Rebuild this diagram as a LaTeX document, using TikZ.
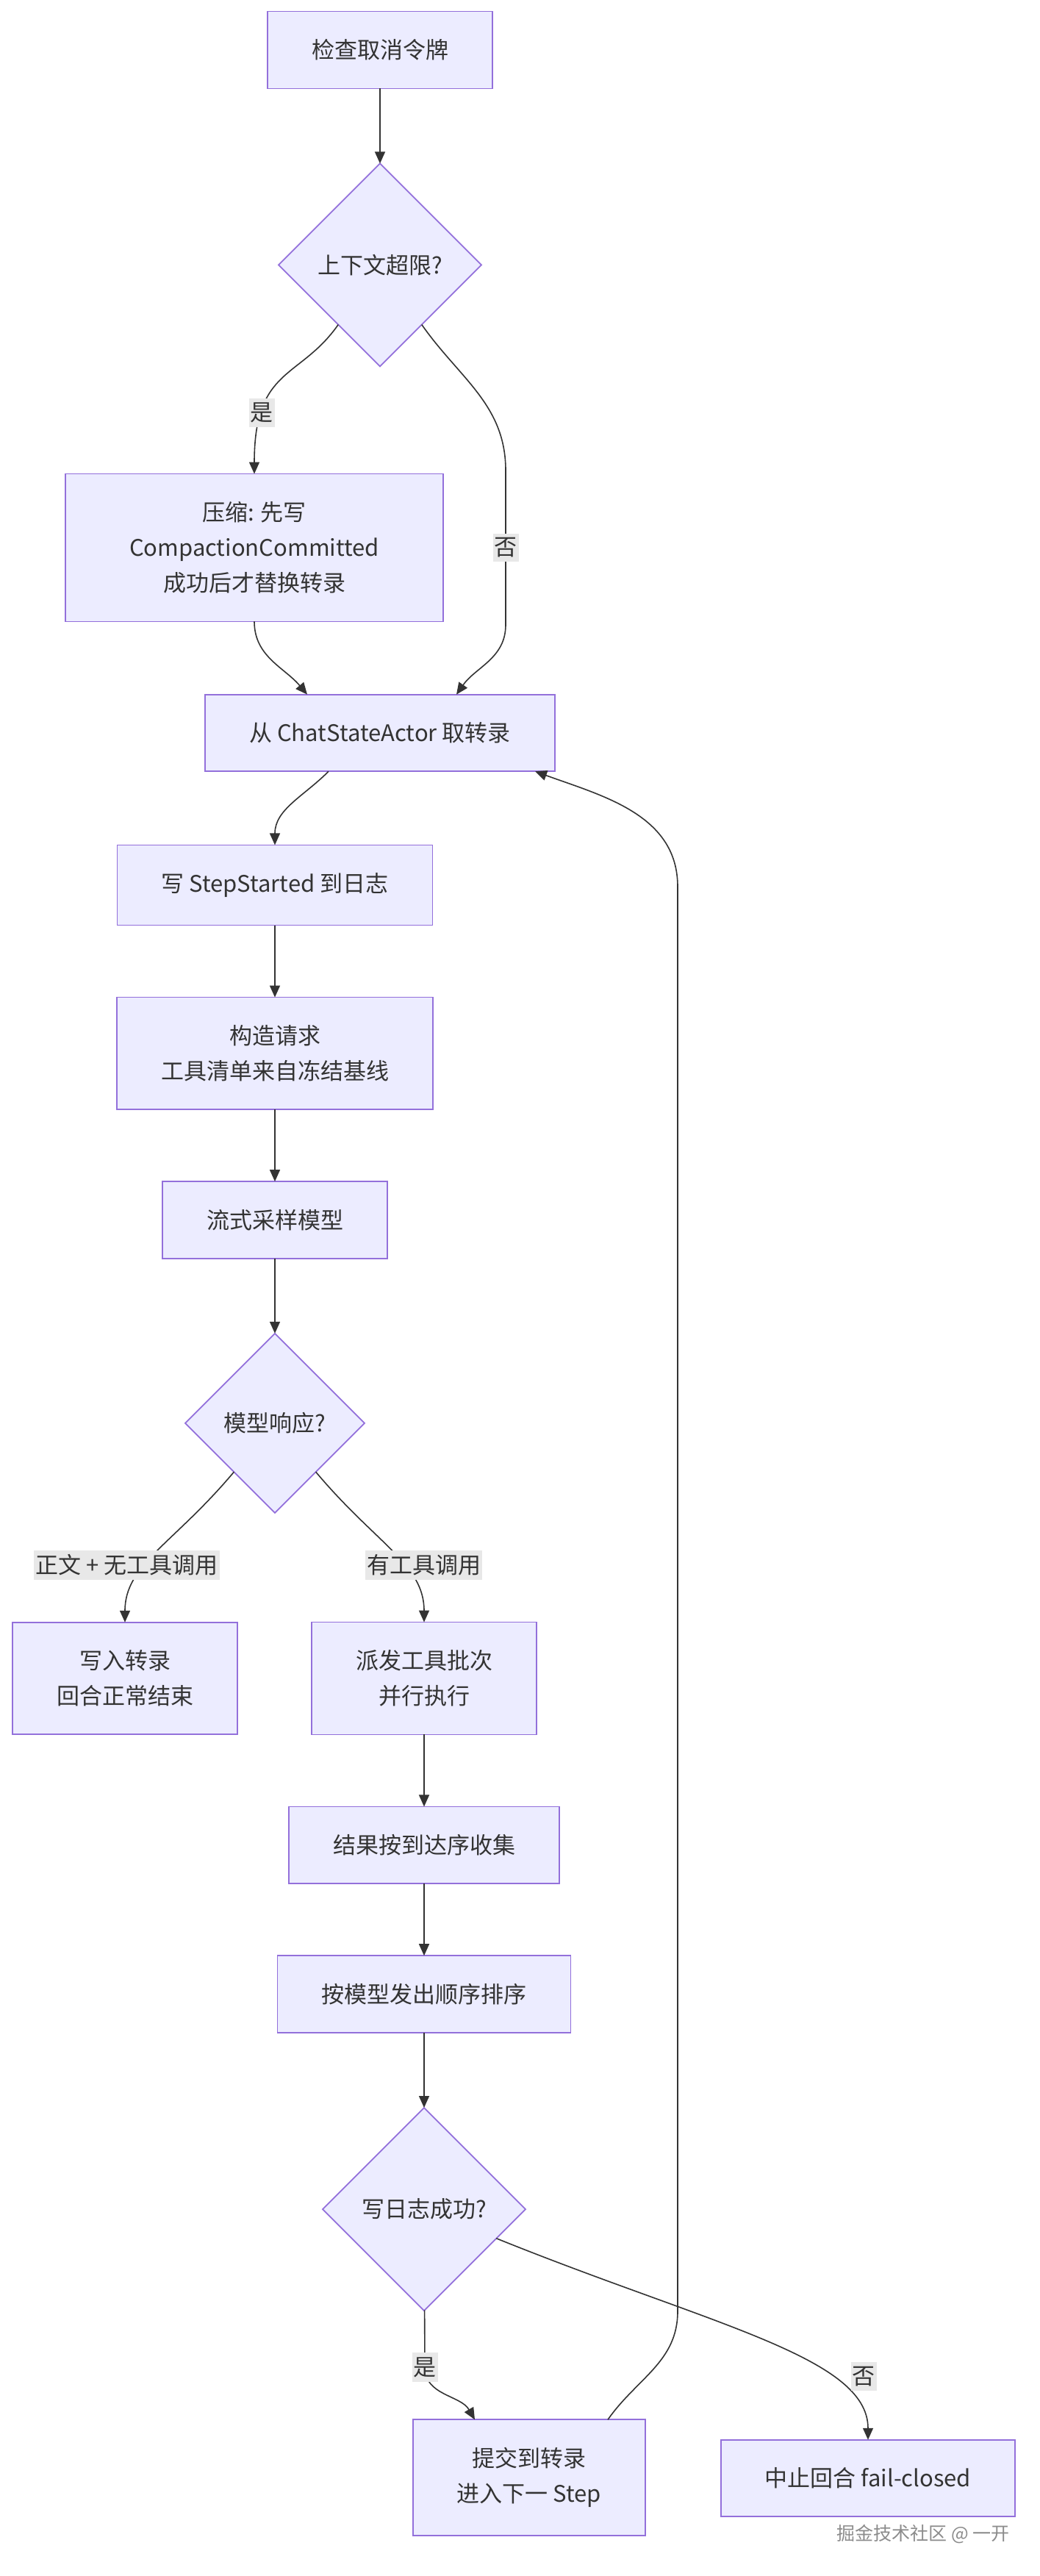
\documentclass[tikz,border=0pt]{standalone}
\usepackage{fontspec}
\setmainfont{Noto Sans CJK SC}
\usetikzlibrary{positioning, shapes.geometric, arrows.meta}
\definecolor{BoxFill}{HTML}{ECECFF}
\definecolor{BoxLine}{HTML}{9370DB}
\definecolor{EdgeLine}{HTML}{333333}
\definecolor{LblFill}{HTML}{E8E8E8}

\begin{document}
\begin{tikzpicture}[x=1pt, y=1pt, node distance = 49pt,
BoxStyle/.style={draw=BoxLine, fill=BoxFill, line width=0.9pt, text=EdgeLine,
                font=\fontsize{15.5}{24}\selectfont, align=center,
                inner xsep=30pt, inner ysep=19pt, outer sep=0pt},
DecStyle/.style={draw=BoxLine, fill=BoxFill, line width=0.9pt, text=EdgeLine,
                font=\fontsize{15.5}{24}\selectfont, diamond, aspect=1,
                inner sep=0pt, outer sep=0pt},
LblStyle/.style={fill=LblFill, text=EdgeLine, font=\fontsize{15.5}{24}\selectfont,
                inner xsep=1pt, inner ysep=3pt},
FlowStyle/.style={draw=EdgeLine, line width=0.8pt,
                -{Triangle[length=8pt, width=7pt]}},]
\useasboundingbox (0, 0) rectangle (707, -1752);
\node [BoxStyle] at (258.5, -34) (s1) {检查取消令牌};
\node [DecStyle, minimum size=138pt, below=51pt of s1] (q1) {上下文超限?};
\node [BoxStyle, minimum width=257pt] at (173, -372.5) (s2)
      {压缩: 先写\\CompactionCommitted\\成功后才替换转录};
\node [BoxStyle] at (258.5, -498.5) (s3) {从 ChatStateActor 取转录};
\node [BoxStyle] at (187, -602) (s4) {写 StepStarted 到日志};
\node [BoxStyle, below=of s4] (s5) {构造请求\\工具清单来自冻结基线};
\node [BoxStyle, below=of s5] (s6) {流式采样模型};
\node [DecStyle, minimum size=122pt, below=51pt of s6] (q2) {模型响应?};
\node [BoxStyle] at (85, -1141.5) (s7) {写入转录\\回合正常结束};
\node [BoxStyle] at (288.5, -1141.5) (s8) {派发工具批次\\并行执行};
\node [BoxStyle, below=of s8] (s9) {结果按到达序收集};
\node [BoxStyle, below=of s9] (s10) {按模型发出顺序排序};
\node [DecStyle, minimum size=138pt, below=51pt of s10] (q3) {写日志成功?};
\node [BoxStyle] at (360, -1685) (s11) {提交到转录\\进入下一 Step};
\node [BoxStyle] at (590.5, -1685.5) (s12) {中止回合 fail-closed};
\node [font=\fontsize{12.5}{15}\selectfont, text=gray!90, anchor=east,
       inner sep=0pt] at (687, -1723.5) (wm) {掘金技术社区 @ 一开};

\coordinate (n1) at (344, -320);
\coordinate (n2) at (344, -425);
\coordinate (y3) at (289, -1610);
\coordinate (lb) at (461, -1572);
\coordinate (lt) at (461, -603);

\draw [FlowStyle] (s1) -- (q1);
\draw [FlowStyle] (q1) to[out=-125, in=90, in looseness=1.6]
      node[LblStyle, pos=0.75] {是} (s2);
\draw [FlowStyle] (q1) to[out=-55, in=90] (n1) -- node[LblStyle] {否} (n2)
      to[out=-90, in=55] ([xshift=52pt]s3.north);
\draw [FlowStyle] (s2) to[out=-90, in=130] ([xshift=-49.5pt]s3.north);
\draw [FlowStyle] ([xshift=-35pt]s3.south) to[out=-135, in=90] (s4);
\draw [FlowStyle] (s4) -- (s5);
\draw [FlowStyle] (s5) -- (s6);
\draw [FlowStyle] (s6) -- (q2);
\draw [FlowStyle] (q2) to[out=-130, in=90, out looseness=1.3, in looseness=0.8]
      node[LblStyle, pos=0.6, xshift=-13pt] {正文 + 无工具调用} (s7);
\draw [FlowStyle] (q2) to[out=-50, in=90, out looseness=1.3, in looseness=0.8]
      node[LblStyle, pos=0.6, xshift=14pt] {有工具调用} (s8);
\draw [FlowStyle] (s8) -- (s9);
\draw [FlowStyle] (s9) -- (s10);
\draw [FlowStyle] (s10) -- (q3);
\draw [FlowStyle] (q3) -- (y3) node[LblStyle] {是}
      to[out=-90, in=120] ([xshift=-37pt]s11.north);
\draw [FlowStyle] (q3) to[out=-22, in=90, out looseness=1.4, in looseness=0.5]
      node[LblStyle, pos=0.7, xshift=24pt] {否} (s12);
\draw [FlowStyle] ([xshift=53.5pt]s11.north) to[out=55, in=-90] (lb) -- (lt)
      to[out=90, in=-20] ([xshift=105.5pt]s3.south);
\end{tikzpicture}
\end{document}
